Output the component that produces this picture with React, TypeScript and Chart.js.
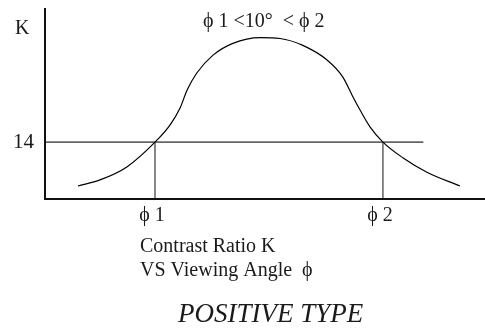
import React, { useEffect, useRef } from "react";
import { Chart, registerables } from "chart.js";

Chart.register(...registerables);

// Viewing angle (deg) and contrast ratio K along the response curve
const curveAngles = [-42.5, -37.5, -31.4, -25, -21.6, -19.3, -17.7, -15.5, -11.8, -7.3, -1.1, 3.4, 8.6, 14.1, 17.7, 20, 21.6, 23.9, 26.8, 31.4, 36.8, 44.3];
const curveContrast = [3.2, 4.7, 7.9, 14, 18.2, 22.4, 26.8, 31, 35.4, 38.3, 39.7, 39.5, 37.8, 34.2, 30, 25.1, 21.9, 17.7, 14, 10.1, 6.6, 3.2];

// Threshold contrast and the two angles where the curve crosses it
const thresholdK = 14;
const thresholdEndAngle = 36;
const phiAngles = [-25, 26.8];
const phiLabels = ["ϕ 1", "ϕ 2"];

// Axis ranges
const angleRange = [-50, 50];
const contrastRange = [0, 47];

// Captions
const yAxisLabel = "K";
const conditionText = "ϕ 1 <10°  < ϕ 2";
const captionLines = ["Contrast Ratio K", "VS Viewing Angle  ϕ"];
const typeText = "POSITIVE TYPE";

const SERIF = '"Liberation Serif", "Times New Roman", serif';

const decorations = {
  id: "decorations",
  afterDatasetsDraw(chart: any) {
    const { ctx } = chart;
    const xs = chart.scales.x;
    const ys = chart.scales.y;
    const x0 = xs.getPixelForValue(angleRange[0]);
    const x1 = xs.getPixelForValue(angleRange[1]);
    const y0 = ys.getPixelForValue(contrastRange[0]);
    const y1 = ys.getPixelForValue(contrastRange[1]);

    ctx.save();
    // axes
    ctx.strokeStyle = "#111";
    ctx.lineWidth = 2;
    ctx.beginPath();
    ctx.moveTo(x0, y1);
    ctx.lineTo(x0, y0);
    ctx.lineTo(x1, y0);
    ctx.stroke();

    ctx.fillStyle = "#1a1a1a";
    ctx.textBaseline = "alphabetic";
    ctx.textAlign = "left";
    ctx.font = `20px ${SERIF}`;
    ctx.fillText(yAxisLabel, 15, 34);
    const yK = ys.getPixelForValue(thresholdK);
    ctx.font = `21px ${SERIF}`;
    ctx.fillText(String(thresholdK), 13, yK + 6);
    ctx.font = `20px ${SERIF}`;
    ctx.fillText(conditionText, 203, 27);

    phiAngles.forEach((a, i) => {
      ctx.textAlign = "center";
      ctx.fillText(phiLabels[i], xs.getPixelForValue(a) - 3, 221);
    });

    ctx.textAlign = "left";
    ctx.fillText(captionLines[0], 140, 252);
    ctx.fillText(captionLines[1], 140, 276);

    ctx.font = `italic 27px ${SERIF}`;
    ctx.fillText(typeText, 178, 322);
    ctx.restore();
  },
};

export default function App() {
  const ref = useRef<HTMLCanvasElement | null>(null);

  useEffect(() => {
    if (!ref.current) return;
    const chart = new Chart(ref.current, {
      type: "line",
      data: {
        datasets: [
          {
            data: curveAngles.map((a, i) => ({ x: a, y: curveContrast[i] })),
            borderColor: "#000",
            borderWidth: 1.2,
            pointRadius: 0,
            cubicInterpolationMode: "monotone",
            fill: false,
          },
          {
            data: [
              { x: angleRange[0], y: thresholdK },
              { x: thresholdEndAngle, y: thresholdK },
            ],
            borderColor: "#666",
            borderWidth: 1.6,
            pointRadius: 0,
            tension: 0,
          },
          ...phiAngles.map((a) => ({
            data: [
              { x: a, y: contrastRange[0] },
              { x: a, y: thresholdK },
            ],
            borderColor: "#555",
            borderWidth: 1.4,
            pointRadius: 0,
            tension: 0,
          })),
        ],
      },
      options: {
        responsive: false,
        animation: false,
        layout: { padding: { left: 45, right: 0, top: 8, bottom: 129 } },
        plugins: { legend: { display: false }, tooltip: { enabled: false } },
        scales: {
          x: { type: "linear", display: false, min: angleRange[0], max: angleRange[1] },
          y: { type: "linear", display: false, min: contrastRange[0], max: contrastRange[1] },
        },
      },
      plugins: [decorations],
    } as any);
    return () => chart.destroy();
  }, []);

  return (
    <div style={{ position: "absolute", left: 0, top: 0, width: 485, height: 328, background: "#fff" }}>
      <canvas ref={ref} width={485} height={328} />
    </div>
  );
}
